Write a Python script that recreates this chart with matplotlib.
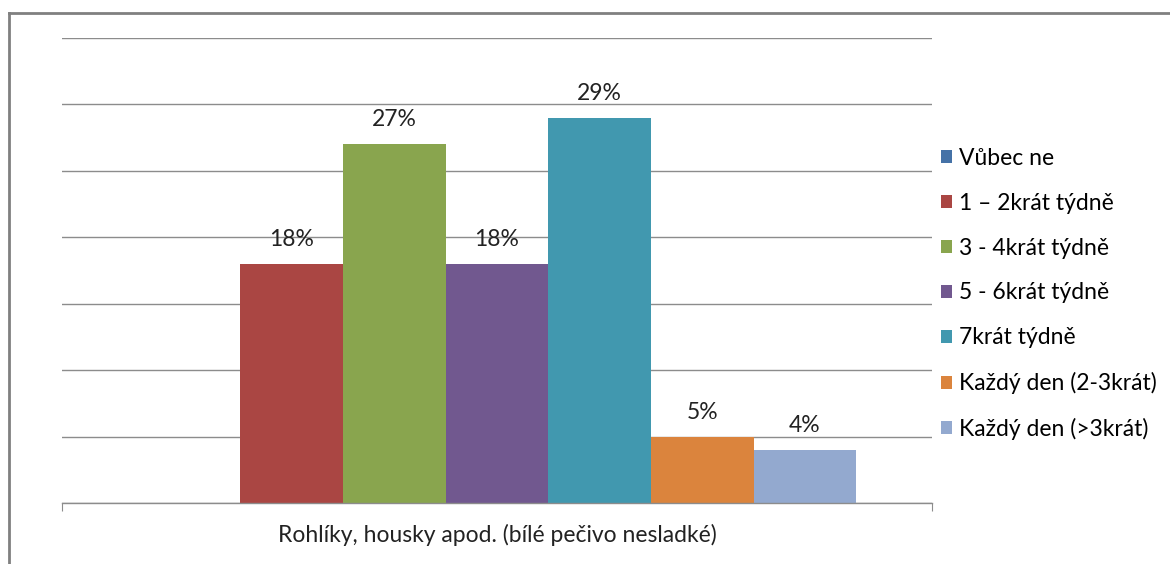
import matplotlib.pyplot as plt
from matplotlib.lines import Line2D

plt.rcParams['font.family'] = ['Lato', 'DejaVu Sans']

kategorie = ["Vůbec ne", "1 – 2krát týdně", "3 - 4krát týdně", "5 - 6krát týdně",
             "7krát týdně", "Každý den (2-3krát)", "Každý den (>3krát)"]
hodnoty = [0, 18, 27, 18, 29, 5, 4]
barvy = ["#4572A7", "#AA4643", "#89A54E", "#71588F", "#4198AF", "#DB843D", "#93A9CF"]
popisek_x = "Rohlíky, housky apod. (bílé pečivo nesladké)"

W, H = 1170, 564
fs = 16.5
fig = plt.figure(figsize=(W / 100, H / 100), dpi=100)
ax = fig.add_axes([62 / W, 1 - 503 / H, 870 / W, 465 / H])

sirka = 0.118
start = -sirka * len(hodnoty) / 2 + sirka / 2
sloupce = []
for i, (k, v, c) in enumerate(zip(kategorie, hodnoty, barvy)):
    x = start + i * sirka
    b = ax.bar(x, v, width=sirka, color=c, label=k, zorder=2)
    sloupce.append(b)
    if v > 0:
        ax.annotate(f"{v}%", (x, v), xytext=(0, 10), textcoords="offset points",
                    ha="center", va="bottom", fontsize=fs, color="#222222")

ax.set_xlim(-0.5, 0.5)
ax.set_ylim(0, 35)
ax.set_yticks(range(0, 36, 5))
ax.yaxis.grid(True, color="#8c8c8c", linewidth=1.0, zorder=0)
ax.tick_params(axis="y", left=False, labelleft=False)
ax.set_xticks([-0.5, 0.5])
ax.tick_params(axis="x", direction="out", length=6, color="#8c8c8c", labelbottom=False)
for s in ["left", "right", "top"]:
    ax.spines[s].set_visible(False)
ax.spines["bottom"].set_color("#8c8c8c")
ax.spines["bottom"].set_linewidth(1.0)

fig.text(497 / W, 1 - 535 / H, popisek_x, ha="center", va="center", fontsize=fs, color="#222222")

fig.legend(handles=sloupce, labels=kategorie, loc="center left",
           bbox_to_anchor=(941 / W, 1 - 294 / H), frameon=False, fontsize=fs,
           handlelength=0.5, handleheight=0.5, handletextpad=0.3,
           labelspacing=1.04, borderpad=0, borderaxespad=0)

# okraj nahoře a vlevo
fig.add_artist(Line2D([9 / W, 1], [1 - 13 / H, 1 - 13 / H], color="#808080", linewidth=2))
fig.add_artist(Line2D([9 / W, 9 / W], [0, 1 - 13 / H], color="#808080", linewidth=2))

fig.savefig("out.png", dpi=100, facecolor="white")
